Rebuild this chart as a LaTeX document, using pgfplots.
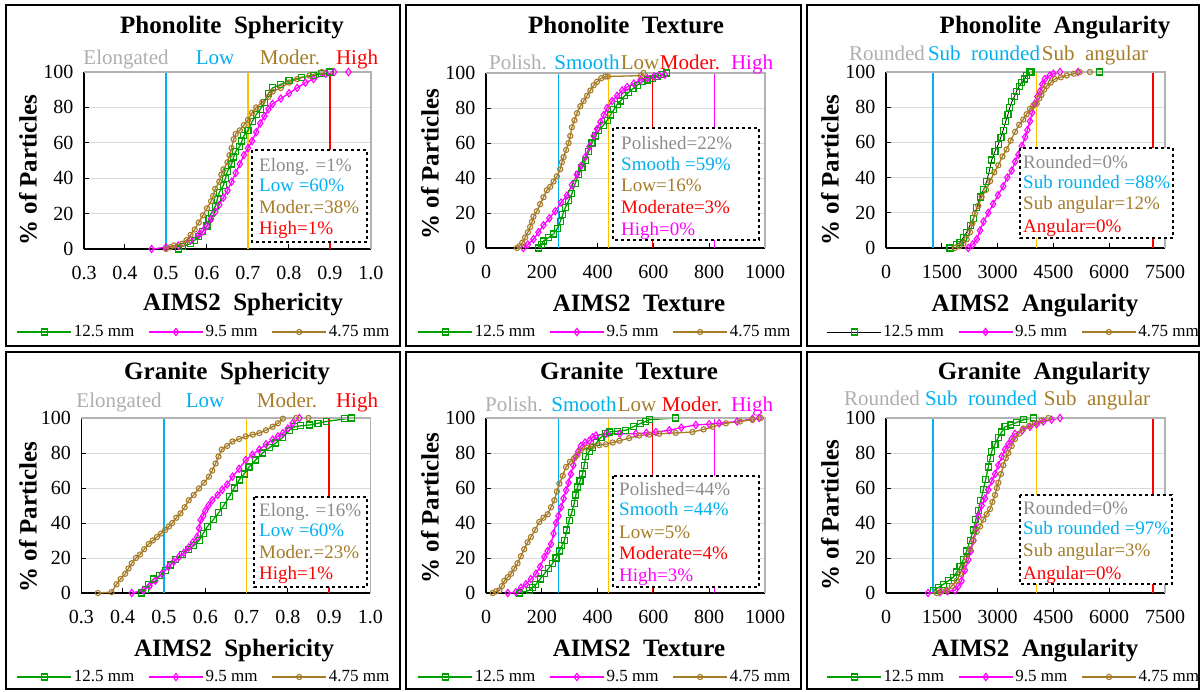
\documentclass[border=0pt]{standalone}
\usepackage{fontspec}
\setmainfont{Liberation Serif}
\usepackage{pgfplots}
\pgfplotsset{compat=1.18}
\definecolor{cgreen}{RGB}{0,160,0}
\definecolor{cmag}{RGB}{255,0,255}
\definecolor{cbrown}{RGB}{166,124,40}
\definecolor{ccyan}{RGB}{0,176,240}
\definecolor{corange}{RGB}{255,192,0}
\definecolor{cred}{RGB}{255,0,0}
\definecolor{cgreyh}{RGB}{175,175,175}
\definecolor{cgreyb}{RGB}{140,140,140}
\definecolor{cgrid}{RGB}{217,217,217}
\newcommand{\tfont}{\fontsize{25}{30}\selectfont\bfseries}
\newcommand{\cfont}{\fontsize{21}{25}\selectfont}
\newcommand{\bfont}{\fontsize{19}{21}\selectfont}
\newcommand{\lfont}{\fontsize{17}{19}\selectfont}
\newcommand{\kfont}{\fontsize{20}{24}\selectfont}
\newcommand{\bl}[4]{\node[anchor=base west, inner sep=0pt, text=#3, font=\bfont] at (#1,-#2) {#4};}
\newcommand{\cl}[4]{\node[anchor=base, inner sep=0pt, text=#3, font=\cfont] at (#1,-#2) {#4};}
\newcommand{\tl}[3]{\node[anchor=base, inner sep=0pt, font=\tfont] at (#1,-#2) {#3};}
\newcommand{\yl}[2]{\node[rotate=90, inner sep=0pt, font=\tfont] at (#1,-#2) {\% of Particles};}
\newcommand{\tb}[4]{\draw[black, dashed, line width=1.2pt, fill=white] (#1,-#2) rectangle (#3,-#4);}

\pgfplotsset{
  panel/.style={
    scale only axis, clip=false,
    ymin=0, ymax=100, ytick={0,20,40,60,80,100},
    ymajorgrids, major grid style={cgrid, line width=1pt},
    axis x line*=bottom, axis y line*=left,
    axis line style={-, black, line width=1.5pt},
    tick align=inside, major tick length=5pt,
    tick style={black, line width=1pt},
    tick label style={font=\kfont},
    xticklabel style={yshift=-14pt},
    yticklabel style={xshift=-7pt},
    /pgf/number format/assume math mode=true,
    /pgf/number format/1000 sep={},
    legend columns=3,
    legend style={draw=none, fill=none, font=\lfont, anchor=center, inner sep=0pt,
      /tikz/every even column/.append style={column sep=12pt}},
    legend image code/.code={\draw[mark repeat=2,mark phase=2] plot coordinates {(0pt,0pt) (27pt,0pt) (54pt,0pt)};},
    execute at end axis={\draw[gray!60, line width=1.2pt] (rel axis cs:0,1) -- (rel axis cs:1,1) -- (rel axis cs:1,0);},
  },
  sph/.style={panel, xmin=0.3, xmax=1.0, xtick={0.3,0.4,0.5,0.6,0.7,0.8,0.9,1.0},
    xticklabels={0.3,0.4,0.5,0.6,0.7,0.8,0.9,1.0}},
  tex/.style={panel, xmin=0, xmax=1000, xtick={0,200,400,600,800,1000}},
  ang/.style={panel, xmin=0, xmax=7500, xtick={0,1500,3000,4500,6000,7500}},
  vl/.style={line width=1.3pt, no marks, forget plot},
  sA/.style={color=cgreen, line width=1.3pt, mark=square, mark size=3pt, mark options={fill=white, line width=1.1pt}},
  sAk/.style={draw=black, line width=0.8pt, mark=square, mark size=3pt, mark options={draw=cgreen, fill=white, line width=1.1pt}},
  sB/.style={color=cmag, line width=1.3pt, mark=diamond, mark size=3.6pt, mark options={fill=white, line width=1.1pt}},
  sC/.style={color=cbrown, line width=1.3pt, mark=o, mark size=2.6pt, mark options={fill=white, line width=1.1pt}},
}

\begin{document}
\begin{tikzpicture}[x=1pt, y=1pt]
\useasboundingbox (0,0) rectangle (1202,-691);
\fill[white] (0,0) rectangle (1202,-691);

% ---------------- Panel 1: Phonolite Sphericity
\begin{axis}[sph, at={(84pt,-249pt)}, anchor=south west, width=287pt, height=177pt,
  legend style={at={(axis description cs:0.418,-0.469)}}]
\addplot[vl, ccyan] coordinates {(0.5,0) (0.5,100)};
\addplot[vl, corange] coordinates {(0.7,0) (0.7,100)};
\addplot[vl, cred] coordinates {(0.9,0) (0.9,100)};
\addplot[sA] coordinates {(0.53,0) (0.54,1.5) (0.56,3) (0.57,5) (0.58,7) (0.59,10) (0.60,13) (0.605,17) (0.61,20) (0.62,24) (0.625,28) (0.63,32) (0.64,36) (0.645,40) (0.65,44) (0.66,48) (0.665,52) (0.67,55) (0.68,58) (0.685,61) (0.69,64) (0.70,67) (0.71,72) (0.72,76) (0.73,79) (0.74,83) (0.75,88) (0.76,91) (0.78,93) (0.80,95) (0.83,97) (0.86,98) (0.88,99) (0.90,100)};
\addplot[sB] coordinates {(0.465,0) (0.50,1) (0.53,2) (0.56,5) (0.58,8) (0.59,10) (0.60,13) (0.61,17) (0.62,21) (0.63,25) (0.64,29) (0.65,33) (0.66,38) (0.67,43) (0.68,48) (0.69,53) (0.70,57) (0.71,61) (0.72,66) (0.73,71) (0.74,75) (0.75,79) (0.76,82) (0.78,85) (0.80,88) (0.82,91) (0.84,94) (0.86,96) (0.89,99) (0.91,100) (0.945,100)};
\addplot[sC] coordinates {(0.50,0) (0.51,1) (0.52,2) (0.54,3) (0.55,5) (0.56,8) (0.57,11) (0.58,15) (0.59,19) (0.60,23) (0.61,27) (0.615,30) (0.62,34) (0.63,38) (0.635,42) (0.64,45) (0.65,49) (0.655,53) (0.66,57) (0.665,62) (0.67,65) (0.68,67) (0.69,70) (0.70,73) (0.71,77) (0.72,80) (0.735,83) (0.75,86) (0.76,89) (0.78,91) (0.80,94) (0.82,96) (0.85,98) (0.88,100)};
\legend{12.5 mm, 9.5 mm, 4.75 mm}
\end{axis}

% ---------------- Panel 2: Phonolite Texture
\begin{axis}[tex, at={(486pt,-248pt)}, anchor=south west, width=279pt, height=175pt,
  legend style={at={(axis description cs:0.426,-0.48)}}]
\addplot[vl, ccyan] coordinates {(260,0) (260,100)};
\addplot[vl, corange] coordinates {(440,0) (440,100)};
\addplot[vl, cred] coordinates {(597,0) (597,100)};
\addplot[vl, cmag] coordinates {(818,0) (818,100)};
\addplot[sA] coordinates {(188,0) (200,2) (206,4) (225,6) (242,8) (255,11) (266,15) (275,19) (284,23) (296,27) (308,31) (320,37) (332,42) (344,46) (356,50) (368,55) (380,60) (392,64) (404,67) (420,70) (434,73) (446,76) (458,79) (470,82) (482,84) (497,87) (512,89) (527,91) (542,93) (560,95) (578,96) (596,97) (614,98) (630,99) (648,100)};
\addplot[sB] coordinates {(134,0) (150,2) (170,5) (188,9) (206,13) (227,17) (248,21) (269,26) (290,30) (308,36) (326,42) (341,47) (356,52) (371,58) (386,64) (398,68) (410,72) (422,76) (434,80) (452,84) (470,87) (488,90) (506,92) (530,94) (554,96) (578,97) (602,98) (620,98.5) (641,99)};
\addplot[sC] coordinates {(111,0) (120,1) (130,3) (140,6) (150,9) (158,12) (165,15) (170,18) (182,21) (194,25) (206,29) (218,33) (230,35) (242,38) (254,41) (266,45) (272,49) (278,52) (287,56) (296,60) (302,64) (308,69) (317,73) (326,77) (338,81) (350,84) (362,87) (374,90) (386,93) (398,95) (413,97) (428,98) (437,98) (555,98.5) (565,100)};
\legend{12.5 mm, 9.5 mm, 4.75 mm}
\end{axis}

% ---------------- Panel 3: Phonolite Angularity
\begin{axis}[ang, at={(886pt,-248pt)}, anchor=south west, width=279pt, height=176pt,
  legend style={at={(axis description cs:0.458,-0.477)}}]
\addplot[vl, ccyan] coordinates {(1260,0) (1260,100)};
\addplot[vl, corange] coordinates {(4040,0) (4040,100)};
\addplot[vl, cred] coordinates {(7180,0) (7180,100)};
\addplot[sAk] coordinates {(1720,0) (1900,2) (1990,3) (2080,6) (2170,9) (2260,13) (2350,17) (2440,23) (2530,29) (2620,33) (2710,38) (2780,44) (2840,50) (2930,55) (3020,59) (3090,63) (3150,67) (3220,72) (3280,76) (3330,80) (3380,83) (3450,86) (3510,89) (3580,92) (3650,94) (3720,96) (3780,98) (3870,100) (3920,100) (5750,100)};
\addplot[sB] coordinates {(2210,0) (2330,2) (2440,5) (2530,10) (2620,15) (2750,20) (2880,25) (3010,30) (3150,35) (3260,40) (3380,44) (3470,49) (3560,53) (3650,58) (3740,63) (3800,67) (3870,72) (3930,77) (4000,82) (4070,86) (4140,89) (4200,93) (4270,96) (4400,98) (4500,99) (4680,100) (5160,100)};
\addplot[sC] coordinates {(1850,0) (1970,1) (2080,2.5) (2170,5) (2260,9) (2320,14) (2390,19.5) (2480,24) (2570,29) (2690,33) (2800,38) (2910,43) (3020,47) (3130,52) (3240,56) (3350,61) (3470,66) (3580,70) (3690,73) (3780,76) (3870,79) (3960,81) (4050,82) (4120,85) (4180,87) (4250,90) (4320,92) (4430,94) (4540,96) (4700,97) (4860,98) (5050,99) (5210,100) (5480,100)};
\legend{12.5 mm, 9.5 mm, 4.75 mm}
\end{axis}

% ---------------- Panel 4: Granite Sphericity
\begin{axis}[sph, at={(81.4pt,-593pt)}, anchor=south west, width=289pt, height=175pt,
  legend style={at={(axis description cs:0.424,-0.48)}}]
\addplot[vl, ccyan] coordinates {(0.5,0) (0.5,100)};
\addplot[vl, corange] coordinates {(0.7,0) (0.7,100)};
\addplot[vl, cred] coordinates {(0.9,0) (0.9,100)};
\addplot[sA] coordinates {(0.446,0) (0.455,2) (0.463,5) (0.475,8) (0.49,10) (0.503,13) (0.515,16) (0.528,19) (0.544,22) (0.56,25) (0.572,27) (0.585,30) (0.595,34) (0.605,38) (0.62,42) (0.633,46) (0.645,50) (0.658,55) (0.67,60) (0.682,64.6) (0.694,68) (0.706,72) (0.722,76) (0.739,80) (0.755,83) (0.771,85.7) (0.788,89) (0.804,93) (0.816,95) (0.83,95.5) (0.853,96) (0.873,97) (0.893,98) (0.938,99.5) (0.954,100)};
\addplot[sB] coordinates {(0.422,0) (0.45,1.5) (0.465,4) (0.479,7) (0.495,11) (0.511,15) (0.524,18) (0.536,20.6) (0.548,23) (0.56,26) (0.57,29) (0.58,32) (0.585,37) (0.589,41.7) (0.595,44) (0.6,47) (0.608,50) (0.617,53) (0.63,56) (0.641,59) (0.653,62) (0.666,66.5) (0.682,71) (0.698,76) (0.714,79) (0.731,82) (0.747,85) (0.763,87.6) (0.776,89.5) (0.788,91.4) (0.80,94) (0.812,97) (0.828,100)};
\addplot[sC] coordinates {(0.34,0) (0.373,0.5) (0.385,5) (0.395,8) (0.406,11) (0.414,14) (0.422,17) (0.432,20) (0.442,22) (0.452,25) (0.463,28) (0.473,30) (0.483,32) (0.493,34) (0.503,36) (0.512,38) (0.52,40) (0.53,43) (0.54,45.5) (0.55,49) (0.56,53) (0.572,56) (0.585,59.8) (0.597,63) (0.609,66.5) (0.617,70) (0.625,74) (0.632,78) (0.64,82) (0.653,84) (0.666,86.6) (0.682,88) (0.698,89.5) (0.715,90.5) (0.731,91.4) (0.747,93) (0.763,95) (0.776,97) (0.788,99.6) (0.82,100) (0.85,100)};
\legend{12.5 mm, 9.5 mm, 4.75 mm}
\end{axis}

% ---------------- Panel 5: Granite Texture
\begin{axis}[tex, at={(486pt,-593pt)}, anchor=south west, width=279pt, height=175pt,
  legend style={at={(axis description cs:0.426,-0.48)}}]
\addplot[vl, ccyan] coordinates {(260,0) (260,100)};
\addplot[vl, corange] coordinates {(440,0) (440,100)};
\addplot[vl, cred] coordinates {(597,0) (597,100)};
\addplot[vl, cmag] coordinates {(818,0) (818,100)};
\addplot[sA] coordinates {(119,0) (155,1.5) (167,3) (179,5) (194,8) (209,11) (224,14) (239,17) (251,20) (263,24) (272,27) (281,30) (290,36) (298,41.5) (307,46) (316,51) (322,56) (328,60.6) (337,64) (346,68) (352,73) (358,78) (370,81) (382,83) (397,86) (412,89) (427,91) (442,92) (472,92.5) (501,93) (528,95) (555,97) (572,98) (585,99) (680,100)};
\addplot[sB] coordinates {(78,0) (107,0.5) (125,3) (143,5) (161,8) (179,11) (194,15) (209,20.6) (221,24) (233,28) (242,34) (251,40) (260,44) (269,49) (278,54) (287,58.7) (296,63) (304,68) (313,73) (322,78) (331,81) (340,84) (355,86) (370,87) (382,89) (394,90) (430,91) (480,91) (537,91) (575,91.5) (609,92) (657,93) (700,94.5) (752,96) (800,96.5) (836,97) (900,98) (955,99.5) (979,100)};
\addplot[sC] coordinates {(24,0) (36,1) (48,1.5) (57,4) (66,7) (78,9) (90,11) (101,14) (113,17) (125,21) (137,25) (149,29) (161,32) (176,36) (191,40.6) (206,43) (221,45) (233,49) (245,53) (254,58) (263,62.5) (275,67) (287,72) (301,75) (316,77) (328,79) (340,81.5) (361,83) (382,84) (406,84.5) (430,85) (454,86) (478,87) (513,88.5) (549,90) (585,90.5) (621,91) (680,91.5) (740,92) (780,93.5) (812,95) (860,97) (910,98) (955,99) (985,100)};
\legend{12.5 mm, 9.5 mm, 4.75 mm}
\end{axis}

% ---------------- Panel 6: Granite Angularity
\begin{axis}[ang, at={(886pt,-593pt)}, anchor=south west, width=279pt, height=175pt,
  legend style={at={(axis description cs:0.458,-0.48)}}]
\addplot[vl, ccyan] coordinates {(1260,0) (1260,100)};
\addplot[vl, corange] coordinates {(4040,0) (4040,100)};
\addplot[vl, cred] coordinates {(7180,0) (7180,100)};
\addplot[sA] coordinates {(1270,1.5) (1400,3) (1541,5) (1680,7) (1810,9) (1900,12) (1989,15) (2080,19) (2168,24) (2260,30) (2348,36) (2415,42) (2482,47) (2550,53) (2616,59) (2680,65) (2750,72) (2800,77) (2840,81) (2930,85) (3020,89) (3110,92) (3199,95) (3350,96) (3512,97.5) (3700,99) (3960,100)};
\addplot[sB] coordinates {(1130,0) (1452,0.5) (1650,1) (1855,1.5) (1945,4) (2034,7) (2120,13) (2213,19) (2280,24) (2348,30) (2415,37) (2482,44) (2572,50) (2660,54) (2750,59) (2840,64) (2930,68) (3020,73) (3109,78) (3200,82) (3288,85) (3380,88) (3467,91) (3670,93) (3871,95) (4050,96.5) (4229,98) (4450,99) (4677,100)};
\addplot[sC] coordinates {(1362,0) (1500,1) (1631,1.5) (1770,4) (1900,7) (1990,11) (2079,15) (2170,20) (2258,25) (2350,30) (2437,35) (2530,38) (2616,42) (2706,45) (2796,48) (2860,52) (2930,56) (2980,60) (3020,63) (3090,68) (3154,73) (3220,77) (3288,80) (3380,84) (3467,88) (3580,91) (3692,94) (3850,95.5) (4005,97) (4180,98.5) (4364,100)};
\legend{12.5 mm, 9.5 mm, 4.75 mm}
\end{axis}

% ---------------- panel frames
\draw[black, line width=2pt] (6,-5) rectangle (400,-346);
\draw[black, line width=2pt] (406,-5) rectangle (801,-346);
\draw[black, line width=2pt] (807,-5) rectangle (1199,-346);
\draw[black, line width=2pt] (6,-352) rectangle (400,-689);
\draw[black, line width=2pt] (406,-352) rectangle (801,-689);
\draw[black, line width=2pt] (807,-352) rectangle (1199,-689);

% ---------------- Panel 1 texts
\tl{232}{33.5}{Phonolite\ \ Sphericity}
\cl{126}{64}{cgreyh}{Elongated}
\cl{215}{64}{ccyan}{Low}
\cl{290}{64}{cbrown}{Moder.}
\cl{357}{64}{cred}{High}
\tl{243}{310.5}{AIMS2\ \ Sphericity}
\yl{28}{170}
\tb{252}{150}{367}{242}
\bl{259}{171}{cgreyb}{Elong. =1\%}
\bl{259}{191}{ccyan}{Low =60\%}
\bl{259}{213}{cbrown}{Moder.=38\%}
\bl{259}{234}{cred}{High=1\%}

% ---------------- Panel 2 texts
\tl{626}{33.5}{Phonolite\ \ Texture}
\cl{518}{69}{cgreyh}{Polish.}
\cl{587}{69}{ccyan}{Smooth}
\cl{640}{69}{cbrown}{Low}
\cl{690}{69}{cred}{Moder.}
\cl{752}{69}{cmag}{High}
\tl{639}{311.5}{AIMS2\ \ Texture}
\yl{430}{164}
\tb{613}{128}{759}{240}
\bl{621}{149}{cgreyb}{Polished=22\%}
\bl{621}{170}{ccyan}{Smooth =59\%}
\bl{621}{191}{cbrown}{Low=16\%}
\bl{621}{213}{cred}{Moderate=3\%}
\bl{621}{235}{cmag}{High=0\%}

% ---------------- Panel 3 texts
\tl{1055}{33.5}{Phonolite\ \ Angularity}
\cl{887}{60}{cgreyh}{Rounded}
\cl{984}{60}{ccyan}{Sub\ \ rounded}
\cl{1095}{60}{cbrown}{Sub\ \ angular}
\tl{1035}{311.5}{AIMS2\ \ Angularity}
\yl{830}{170}
\tb{1020}{148}{1173}{238}
\bl{1023}{168}{cgreyb}{Rounded=0\%}
\bl{1023}{188}{ccyan}{Sub rounded =88\%}
\bl{1023}{209}{cbrown}{Sub angular=12\%}
\bl{1023}{232}{cred}{Angular=0\%}

% ---------------- Panel 4 texts
\tl{227}{379.5}{Granite\ \ Sphericity}
\cl{119}{407}{cgreyh}{Elongated}
\cl{205}{407}{ccyan}{Low}
\cl{287}{407}{cbrown}{Moder.}
\cl{357}{407}{cred}{High}
\tl{234}{656.5}{AIMS2\ \ Sphericity}
\yl{28}{517}
\tb{254}{497}{367}{587}
\bl{259}{516}{cgreyb}{Elong. =16\%}
\bl{259}{536}{ccyan}{Low =60\%}
\bl{259}{558}{cbrown}{Moder.=23\%}
\bl{259}{579}{cred}{High=1\%}

% ---------------- Panel 5 texts
\tl{629}{379.5}{Granite\ \ Texture}
\cl{514}{411}{cgreyh}{Polish.}
\cl{584}{411}{ccyan}{Smooth}
\cl{637}{411}{cbrown}{Low}
\cl{692}{411}{cred}{Moder.}
\cl{752}{411}{cmag}{High}
\tl{639}{656.5}{AIMS2\ \ Texture}
\yl{430}{508}
\tb{613}{476}{759}{587}
\bl{619}{495}{cgreyb}{Polished=44\%}
\bl{619}{515}{ccyan}{Smooth =44\%}
\bl{619}{538}{cbrown}{Low=5\%}
\bl{619}{559}{cred}{Moderate=4\%}
\bl{619}{581}{cmag}{High=3\%}

% ---------------- Panel 6 texts
\tl{1044}{379.5}{Granite\ \ Angularity}
\cl{882}{405}{cgreyh}{Rounded}
\cl{981}{405}{ccyan}{Sub\ \ rounded}
\cl{1097}{405}{cbrown}{Sub\ \ angular}
\tl{1035}{656.5}{AIMS2\ \ Angularity}
\yl{830}{515}
\tb{1020}{495}{1172}{584}
\bl{1023}{514}{cgreyb}{Rounded=0\%}
\bl{1023}{534}{ccyan}{Sub rounded =97\%}
\bl{1023}{556}{cbrown}{Sub angular=3\%}
\bl{1023}{579}{cred}{Angular=0\%}
\end{tikzpicture}
\end{document}
